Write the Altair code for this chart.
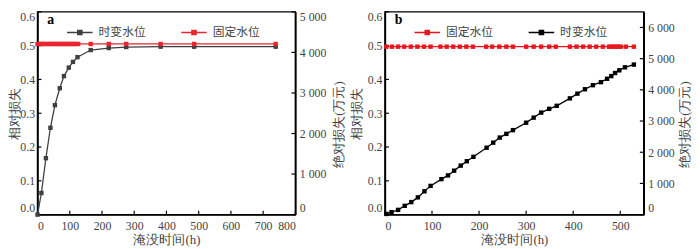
import altair as alt
import pandas as pd

FONT = "Liberation Serif, Times New Roman, serif"
CJK = "Noto Sans CJK SC"
TXT = "#444444"

# ---------- panel a ----------
a_tv_t = [0, 12, 26, 40, 54, 69, 82, 97, 110, 124, 165, 221, 275, 382, 486, 739]
a_tv_v = [0.0, 0.064, 0.167, 0.257, 0.324, 0.374, 0.41, 0.435, 0.452, 0.466,
          0.487, 0.493, 0.496, 0.497, 0.497, 0.497]
a_fx_t = [0, 7, 14, 21, 28, 35, 42, 49, 56, 63, 70, 77, 84, 91, 98, 105, 112,
          119, 126, 165, 221, 275, 382, 486, 739]
a_fx_v = [0.505, 0.505, 0.505, 0.505, 0.505, 0.505, 0.505, 0.505, 0.505, 0.505,
          0.505, 0.505, 0.505, 0.505, 0.505, 0.505, 0.505, 0.505, 0.505, 0.505,
          0.505, 0.505, 0.505, 0.505, 0.505]

# ---------- panel b ----------
b_tv_t = [3, 14, 28, 42, 56, 70, 84, 97, 120, 134, 147, 161, 174, 188, 216, 230,
          244, 258, 272, 300, 316, 332, 349, 365, 393, 409, 425, 442, 459, 472,
          481, 489, 498, 510, 529]
b_tv_v = [0.002, 0.007, 0.014, 0.026, 0.037, 0.051, 0.069, 0.085, 0.105, 0.116,
          0.13, 0.145, 0.158, 0.171, 0.198, 0.213, 0.228, 0.239, 0.25, 0.272,
          0.287, 0.302, 0.313, 0.322, 0.344, 0.358, 0.371, 0.383, 0.392, 0.402,
          0.41, 0.419, 0.427, 0.436, 0.444]
b_fx_t = [3, 15, 28, 41, 55, 69, 83, 97, 118, 131, 145, 159, 173, 187, 215, 228,
          243, 258, 272, 300, 316, 332, 349, 363, 393, 407, 421, 435, 449, 463,
          476, 481, 486, 491, 496, 501, 512, 529]
b_fx_v = [0.497, 0.497, 0.497, 0.497, 0.497, 0.497, 0.497, 0.497, 0.497, 0.497,
          0.497, 0.497, 0.497, 0.497, 0.497, 0.497, 0.497, 0.497, 0.497, 0.497,
          0.497, 0.497, 0.497, 0.497, 0.497, 0.497, 0.497, 0.497, 0.497, 0.497,
          0.497, 0.497, 0.497, 0.497, 0.497, 0.497, 0.497, 0.497]

left_ticks = [0.0, 0.1, 0.2, 0.3, 0.4, 0.5, 0.6]
a_right_ticks = [0, 1000, 2000, 3000, 4000, 5000]
b_right_ticks = [0, 1000, 2000, 3000, 4000, 5000, 6000]
a_x_ticks = [0, 100, 200, 300, 400, 500, 600, 700, 800]
b_x_ticks = [0, 100, 200, 300, 400, 500]

SYMBOL = "M-4.33,0H4.33M-0.7,-0.7H0.7V0.7H-0.7ZM-0.35,-0.35H0.35V0.35H-0.35Z"


def panel(label, W, H, xmax, rmax, x_ticks, r_ticks, series, colors, ltx, rtx):
    rows = []
    for name, ts, vs in series:
        for t, v in zip(ts, vs):
            rows.append({"t": t, "v": v, "s": name})
    df = pd.DataFrame(rows)
    xscale = alt.Scale(domain=[0, xmax], nice=False, zero=False)
    xaxis = alt.Axis(title="淹没时间(h)", values=x_ticks, format="d", ticks=False,
                     tickSize=0, labelPadding=6, titlePadding=2, grid=False)
    left_axis = alt.Axis(title="相对损失", values=left_ticks, format=".1f",
                         ticks=False, tickSize=0, labelPadding=3, labelFlush=True,
                         titleAngle=270, titleBaseline="middle", titleX=ltx,
                         titleY=H / 2, titleAlign="center", grid=False)
    right_axis = alt.Axis(title="绝对损失(万元)", orient="right", values=r_ticks,
                          labelExpr="replace(format(datum.value, ','), ',', ' ')",
                          ticks=False, tickSize=0, labelPadding=4, labelFlush=True,
                          titleAngle=270, titleBaseline="middle", titleX=rtx,
                          titleY=114, titleAlign="center", grid=False)
    yl_scale = alt.Scale(domain=[0, 0.6], nice=False, zero=False)

    lt = alt.Chart(pd.DataFrame({"t": [0] * len(left_ticks), "yl": left_ticks})).mark_rule(
        color="black", strokeWidth=1.2).encode(
        x=alt.X("t:Q", scale=xscale, axis=xaxis),
        x2=alt.value(4),
        y=alt.Y("yl:Q", scale=yl_scale, axis=left_axis))
    rt = alt.Chart(pd.DataFrame({"t": [xmax] * len(r_ticks), "yr": r_ticks})).mark_rule(
        color="black", strokeWidth=1.2).encode(
        x=alt.X("t:Q", scale=xscale, axis=xaxis),
        x2=alt.value(W - 4),
        y=alt.Y("yr:Q", scale=alt.Scale(domain=[0, rmax], nice=False, zero=False),
                axis=right_axis))
    xt = alt.Chart(pd.DataFrame({"t": x_ticks})).mark_rule(
        color="black", strokeWidth=1.2).encode(
        x=alt.X("t:Q", scale=xscale, axis=xaxis),
        y=alt.value(H), y2=alt.value(H - 4))
    names = [s[0] for s in series]
    lines = alt.Chart(df).mark_line(
        strokeWidth=1.3,
        point=alt.OverlayMarkDef(shape="square", filled=True, size=20)).encode(
        x=alt.X("t:Q", scale=xscale, axis=xaxis),
        y=alt.Y("v:Q", scale=yl_scale, axis=None),
        color=alt.Color("s:N", scale=alt.Scale(domain=names, range=colors),
                        legend=alt.Legend(title=None, orient="none", legendX=37,
                                          legendY=15, direction="horizontal",
                                          symbolType=SYMBOL, symbolSize=36,
                                          symbolStrokeWidth=1.5, labelOffset=13,
                                          columnPadding=32, labelFontSize=12,
                                          labelFont=CJK, labelColor=TXT)),
        order=alt.Order("t:Q"))
    lab = alt.Chart(pd.DataFrame({"t": [0], "yl": [0.6], "k": [label]})).mark_text(
        align="left", baseline="alphabetic", dx=10, dy=12,
        font="Liberation Serif, Times New Roman, serif", fontSize=14,
        fontWeight="bold", color="black").encode(
        x=alt.X("t:Q", scale=xscale, axis=xaxis),
        y=alt.Y("yl:Q", scale=yl_scale, axis=None),
        text="k:N")
    return alt.layer(lt, rt, xt, lines, lab).resolve_scale(y="independent").properties(
        width=W, height=H)


pa = panel("a", 262, 206, 800, 5000, a_x_ticks, a_right_ticks,
           [("时变水位", a_tv_t, a_tv_v), ("固定水位", a_fx_t, a_fx_v)],
           ["#404040", "#e8262d"], -23, 44)
pb = panel("b", 263, 206, 550, 6500, b_x_ticks, b_right_ticks,
           [("固定水位", b_fx_t, b_fx_v), ("时变水位", b_tv_t, b_tv_v)],
           ["#e8171f", "#000000"], -29, 41)

chart = alt.hconcat(pa, pb, spacing=3).resolve_scale(
    color="independent").resolve_legend(color="independent").properties(
    padding={"top": 0, "left": 0, "right": 0, "bottom": 0}
).configure_view(stroke="black", strokeWidth=1.5).configure_axis(
    domainColor="black", domainWidth=1.5, labelFont=FONT, labelFontSize=12,
    labelColor=TXT, titleFont=FONT, titleFontSize=13, titleColor=TXT,
    titleFontWeight="normal")

chart.save("out.html", embed_options={"renderer": "svg", "actions": False})
